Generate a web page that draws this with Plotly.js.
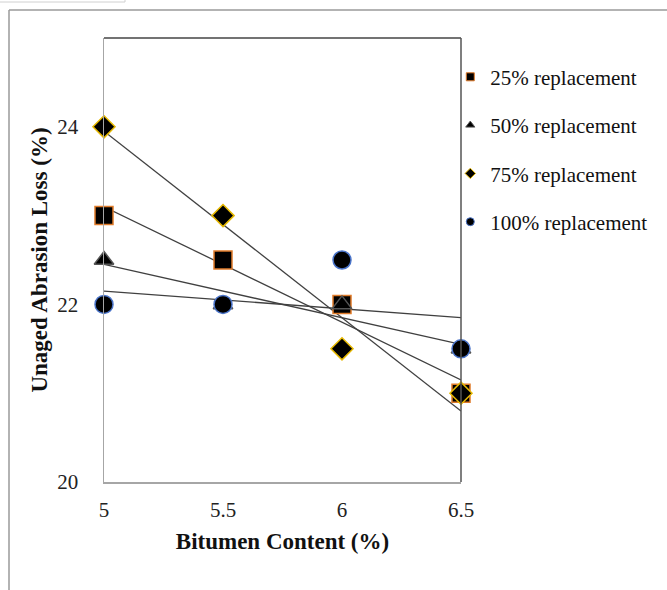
<!DOCTYPE html>
<html>
<head>
<meta charset="utf-8">
<script src="https://cdn.plot.ly/plotly-3.0.1.min.js"></script>
<style>html,body{margin:0;padding:0;background:#fff;}#chart{width:667px;height:590px;}</style>
</head>
<body>
<div id="chart"></div>
<script>
// Data
const bitumen = [5, 5.5, 6, 6.5];
const rep25 = [23, 22.5, 22, 21];
const rep50 = [22.5, 22, 22, 21.5];
const rep75 = [24, 23, 21.5, 21];
const rep100 = [22, 22, 22.5, 21.5];
const seriesNames = ['25% replacement', '50% replacement', '75% replacement', '100% replacement'];
const xTicks = [5, 5.5, 6, 6.5];
const yTicks = [20, 22, 24];

const styles = [
  {symbol: 'square', size: 18, line: '#e07b2a'},
  {symbol: 'triangle-up', size: 17, line: '#555555'},
  {symbol: 'diamond', size: 17, line: '#e6b800'},
  {symbol: 'circle', size: 18, line: '#4a74c9'}
];
const seriesData = [rep25, rep50, rep75, rep100];

function linfit(xs, ys) {
  const n = xs.length;
  const mx = xs.reduce((a, b) => a + b, 0) / n;
  const my = ys.reduce((a, b) => a + b, 0) / n;
  let sxy = 0, sxx = 0;
  for (let i = 0; i < n; i++) { sxy += (xs[i] - mx) * (ys[i] - my); sxx += (xs[i] - mx) ** 2; }
  const b = sxy / sxx, a = my - b * mx;
  const xe = [xs[0], xs[n - 1]];
  return {x: xe, y: xe.map(v => a + b * v)};
}

const traces = [];
// trendlines
seriesData.forEach((ys) => {
  const f = linfit(bitumen, ys);
  traces.push({x: f.x, y: f.y, mode: 'lines', line: {color: '#404040', width: 1.3}, showlegend: false, hoverinfo: 'skip', cliponaxis: false});
});
// markers
seriesData.forEach((ys, i) => {
  traces.push({x: bitumen, y: ys, mode: 'markers', name: seriesNames[i], showlegend: false, cliponaxis: false,
    marker: {symbol: styles[i].symbol, size: styles[i].size, color: '#000000', line: {color: styles[i].line, width: 1.5}}});
});
// legend entries
seriesData.forEach((ys, i) => {
  traces.push({x: [null], y: [null], mode: 'markers', name: seriesNames[i], legendgroup: 'g' + i, showlegend: true,
    marker: {symbol: styles[i].symbol, size: 8, color: '#000000', line: {color: styles[i].line, width: 1}}});
});

const font = 'Liberation Serif, Times New Roman, serif';
const layout = {
  width: 667, height: 590,
  margin: {l: 104, r: 206, t: 38, b: 108, autoexpand: false},
  paper_bgcolor: '#ffffff', plot_bgcolor: '#ffffff',
  font: {family: font, size: 21, color: '#222222'},
  showlegend: true,
  legend: {x: 0.97, xanchor: 'left', y: 0.958, yanchor: 'top', traceorder: 'grouped', tracegroupgap: 18,
    font: {family: font, size: 21, color: '#111111'}, bgcolor: 'rgba(0,0,0,0)'},
  xaxis: {range: [5, 6.5], tickvals: xTicks, ticktext: xTicks.map(String), showgrid: false, zeroline: false,
    showline: true, linecolor: '#a6a6a6', linewidth: 1.5, ticks: '', ticklabelstandoff: 8,
    title: {text: '<b>Bitumen Content (%)</b>', font: {family: font, size: 23, color: '#111111'}, standoff: 12}},
  yaxis: {range: [20, 25], tickvals: yTicks, ticktext: yTicks.map(String), showgrid: false, zeroline: false,
    showline: true, linecolor: '#a6a6a6', linewidth: 1.5, ticks: '', ticklabelstandoff: 20,
    title: {text: '<b>Unaged Abrasion Loss (%)</b>', font: {family: font, size: 23, color: '#111111'}, standoff: 3}},
  shapes: [
    {type: 'line', xref: 'paper', yref: 'paper', x0: 0, x1: 1, y0: 1, y1: 1, line: {color: '#444444', width: 1.5}},
    {type: 'line', xref: 'paper', yref: 'paper', x0: 1, x1: 1, y0: 0, y1: 1, line: {color: '#555555', width: 1.5}},
    {type: 'line', xref: 'paper', yref: 'paper', x0: (9 - 104) / 357, x1: (667 - 104) / 357, y0: (482 - 10) / 444, y1: (482 - 10) / 444, line: {color: '#9a9a9a', width: 1.5}},
    {type: 'line', xref: 'paper', yref: 'paper', x0: (9 - 104) / 357, x1: (9 - 104) / 357, y0: (482 - 10) / 444, y1: (482 - 592) / 444, line: {color: '#9a9a9a', width: 1.5}},
    {type: 'rect', xref: 'paper', yref: 'paper', x0: (-2 - 104) / 357, x1: (125 - 104) / 357, y0: (482 + 5) / 444, y1: (482 - 2) / 444, line: {color: '#d0d0d0', width: 1}}
  ]
};

Plotly.newPlot('chart', traces, layout, {displayModeBar: false, staticPlot: true});
</script>
</body>
</html>
